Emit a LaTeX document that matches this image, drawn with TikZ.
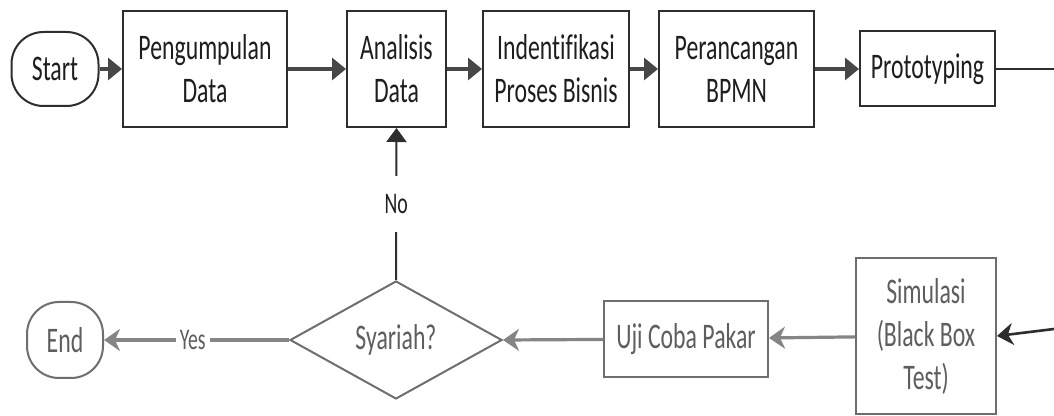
\documentclass[tikz,border=0pt]{standalone}
\usepackage{fontspec}
\setmainfont{Carlito}[FakeStretch=0.66, Ligatures=NoCommon]
\usetikzlibrary{shapes.geometric,arrows.meta}

\definecolor{inkdark}{HTML}{1E1E1E}
\definecolor{linedark}{HTML}{2E2E2E}
\definecolor{arrowdark}{HTML}{474747}
\definecolor{inkgray}{HTML}{5E5E5E}
\definecolor{linegray}{HTML}{6E6E6E}
\definecolor{arrowgray}{HTML}{858585}

\tikzset{
  basefont/.style={font=\fontsize{18}{21.5}\selectfont},
  labelfont/.style={font=\fontsize{15}{18}\selectfont},
  procbox/.style={basefont, draw=linedark, line width=1pt, fill=white,
    text=inkdark, align=center, inner sep=0pt},
  termbox/.style={procbox, rounded corners=16pt},
  lowbox/.style={procbox, draw=linegray, text=inkgray},
  lowterm/.style={lowbox, rounded corners=16pt},
  decision/.style={basefont, diamond, draw=linegray, line width=1pt,
    fill=white, text=inkgray, inner sep=0pt, aspect=1.8},
  toparrow/.style={draw=arrowdark, line width=1.6pt,
    -{Triangle[length=7pt,width=11pt]}},
  topline/.style={draw=linedark, line width=1pt},
  grayarrow/.style={draw=arrowgray, line width=1.6pt,
    -{Stealth[length=8pt,width=11pt,inset=2.5pt]}},
  darkarrow/.style={draw=linedark, line width=1.3pt,
    -{Stealth[length=8pt,width=11pt,inset=2.5pt]}},
  edgelabel/.style={labelfont, fill=white, text=inkdark, inner sep=0pt}
}

\begin{document}
\begin{tikzpicture}[x=0.5pt,y=-0.5pt]
  \useasboundingbox (0,0) rectangle (1054,416);
  \fill[white] (0,0) rectangle (1054,416);

  % top row: data collection through prototyping
  \node[termbox, minimum width=43.5pt, minimum height=37pt] (start) at (55,69) {Start};
  \node[procbox, minimum width=82pt, minimum height=58pt] (peng) at (205,69) {Pengumpulan\\Data};
  \node[procbox, minimum width=49.5pt, minimum height=58pt] (ana) at (396.5,69) {Analisis\\Data};
  \node[procbox, minimum width=73pt, minimum height=58pt] (ident) at (556,69) {Indentifikasi\\Proses Bisnis};
  \node[procbox, minimum width=77.5pt, minimum height=58pt] (bpmn) at (736.5,69) {Perancangan\\BPMN};
  \node[procbox, minimum width=67.5pt, minimum height=37.5pt] (proto) at (927.5,69) {Prototyping};

  % bottom row: testing and decision
  \node[lowbox, minimum width=70pt, minimum height=78pt] (sim) at (926,336) {Simulasi\\(Black Box\\Test)};
  \node[lowbox, minimum width=82pt, minimum height=38pt] (uji) at (686,339) {Uji Coba Pakar};
  \node[decision, minimum width=106pt, minimum height=59pt] (dec) at (396,340) {Syariah?};
  \node[lowterm, minimum width=38pt, minimum height=38pt] (end) at (65,340) {End};

  % loose ends at the right margin
  \coordinate (outR) at (1054,69);
  \coordinate (inR) at (1054,329);

  % connectors
  \draw[toparrow] (start) -- (peng);
  \draw[toparrow] (peng) -- (ana);
  \draw[toparrow] (ana) -- (ident);
  \draw[toparrow] (ident) -- (bpmn);
  \draw[toparrow] (bpmn) -- (proto);
  \draw[topline] (proto) -- (outR);

  \draw[darkarrow] (inR) -- (sim.east);
  \draw[grayarrow] (sim) -- (uji);
  \draw[grayarrow] (uji) -- (dec.east);
  \draw[grayarrow] (dec.west) -- node[edgelabel, pos=0.52, inner xsep=2pt, text=inkgray] {Yes} (end);
  \draw[draw=linedark, line width=1pt, -{Triangle[length=7pt,width=10pt]}]
    (dec.north) -- node[edgelabel, inner ysep=9pt, inner xsep=2pt] {No} (ana.south);
\end{tikzpicture}
\end{document}
